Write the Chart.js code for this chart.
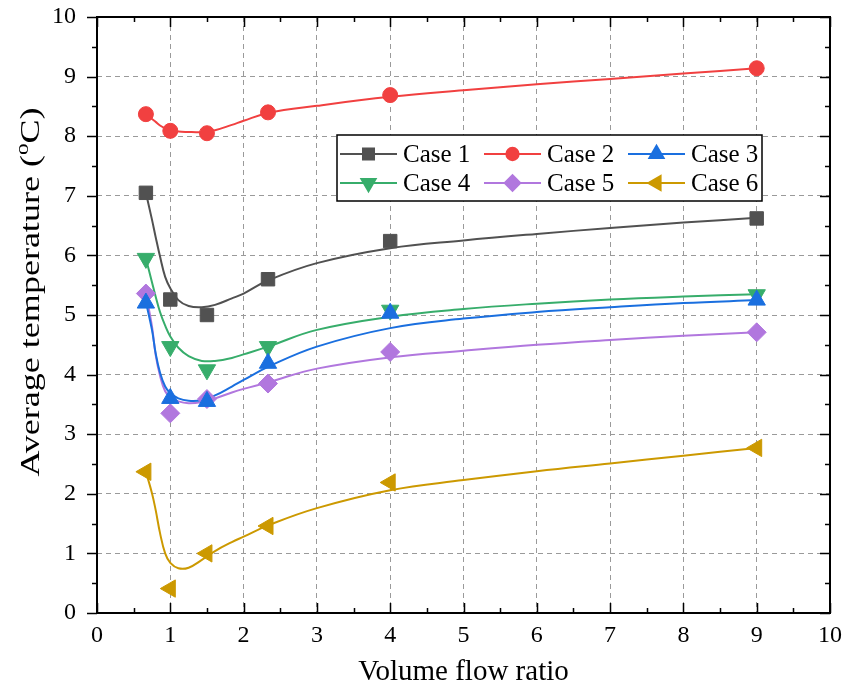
<!DOCTYPE html>
<html>
<head>
<meta charset="utf-8">
<script src="https://cdn.jsdelivr.net/npm/chart.js@4.4.0/dist/chart.umd.min.js"></script>
<style>
  html, body { margin: 0; padding: 0; background: #fff; }
</style>
</head>
<body>
<canvas id="chart" width="844" height="686"></canvas>
<script>
// measured points
const ratios = [0.667, 1, 1.5, 2.333, 4, 9];
const case1 = [7.05, 5.26, 5.00, 5.60, 6.24, 6.62];
const case2 = [8.37, 8.09, 8.05, 8.40, 8.69, 9.14];
const case3 = [5.20, 3.60, 3.55, 4.19, 5.03, 5.25];
const case4 = [5.95, 4.47, 4.08, 4.47, 5.08, 5.34];
const case5 = [5.36, 3.35, 3.59, 3.85, 4.38, 4.71];
const case6 = [2.37, 0.41, 1.00, 1.46, 2.19, 2.77];

// fitted curves
const fitX  = [0.667, 0.75, 0.80, 0.86, 0.93, 1.0, 1.11, 1.25, 1.43, 1.61, 1.84, 2.0, 2.333, 3, 4, 5, 6, 7, 8, 9];
const fit1  = [7.05, 6.60, 6.31, 5.98, 5.64, 5.45, 5.25, 5.15, 5.13, 5.17, 5.28, 5.36, 5.58, 5.87, 6.12, 6.25, 6.36, 6.46, 6.55, 6.63];
const fit2  = [8.37, 8.29, 8.24, 8.18, 8.13, 8.09, 8.08, 8.07, 8.07, 8.10, 8.19, 8.26, 8.39, 8.51, 8.66, 8.77, 8.87, 8.96, 9.05, 9.14];
const fit3  = [5.22, 4.75, 4.36, 4.03, 3.80, 3.69, 3.60, 3.56, 3.57, 3.65, 3.80, 3.91, 4.13, 4.47, 4.78, 4.94, 5.05, 5.13, 5.20, 5.25];
const fit4  = [5.95, 5.55, 5.31, 5.05, 4.82, 4.64, 4.45, 4.31, 4.23, 4.23, 4.28, 4.34, 4.47, 4.75, 4.97, 5.10, 5.19, 5.26, 5.31, 5.35];
const fit5  = [5.36, 4.81, 4.33, 3.98, 3.72, 3.62, 3.55, 3.52, 3.54, 3.60, 3.70, 3.76, 3.87, 4.10, 4.29, 4.40, 4.50, 4.58, 4.65, 4.71];
const fit6  = [2.37, 2.01, 1.73, 1.34, 1.00, 0.84, 0.75, 0.76, 0.89, 1.04, 1.19, 1.28, 1.47, 1.76, 2.06, 2.23, 2.38, 2.51, 2.64, 2.77];

const caseLabels = ['Case 1', 'Case 2', 'Case 3', 'Case 4', 'Case 5', 'Case 6'];
const axisTicks = [0, 1, 2, 3, 4, 5, 6, 7, 8, 9, 10];

const series = [case1, case2, case3, case4, case5, case6];
const fits = [fit1, fit2, fit3, fit4, fit5, fit6];

const looks = [
  { color: '#515151', pointStyle: 'rect',     radius: 9.5, rotation: 0 },
  { color: '#F14040', pointStyle: 'circle',   radius: 7.5, rotation: 0 },
  { color: '#1A6FDF', pointStyle: 'triangle', radius: 10,  rotation: 0 },
  { color: '#37AD6B', pointStyle: 'triangle', radius: 10,  rotation: 180 },
  { color: '#B177DE', pointStyle: 'rectRot',  radius: 9.5, rotation: 0 },
  { color: '#CC9900', pointStyle: 'triangle', radius: 10,  rotation: 270 }
];

const FONT = '"Liberation Serif", "Times New Roman", serif';

const datasets = [];
fits.forEach((f, i) => {
  datasets.push({
    label: caseLabels[i] + ' fit',
    data: fitX.map((x, k) => ({ x: x, y: f[k] })),
    showLine: true,
    borderColor: looks[i].color,
    borderWidth: 2,
    pointRadius: 0,
    tension: 0.4,
    order: 2
  });
});
series.forEach((s, i) => {
  datasets.push({
    label: caseLabels[i],
    data: ratios.map((x, k) => ({ x: x, y: s[k] })),
    showLine: false,
    pointStyle: looks[i].pointStyle,
    pointRadius: looks[i].radius,
    pointRotation: looks[i].rotation,
    backgroundColor: looks[i].color,
    borderColor: looks[i].color,
    borderWidth: 1,
    order: 1
  });
});

function marker(ctx, look, x, y, scale) {
  const opts = {
    pointStyle: look.pointStyle,
    radius: look.radius * scale,
    rotation: look.rotation,
    borderWidth: 1
  };
  ctx.fillStyle = look.color;
  ctx.strokeStyle = look.color;
  if (Chart.helpers && Chart.helpers.drawPoint) {
    Chart.helpers.drawPoint(ctx, opts, x, y);
  } else {
    ctx.beginPath();
    ctx.arc(x, y, opts.radius, 0, Math.PI * 2);
    ctx.fill();
  }
}

// no extra room for half tick labels, the area is fixed by layout padding
function noLabelPad(scale) {
  scale.paddingTop = 0;
  scale.paddingBottom = 0;
  scale.paddingLeft = 0;
  scale.paddingRight = 0;
}

const frame = {
  id: 'frame',
  afterDatasetsDraw(chart) {
    const { ctx, chartArea: a, scales: { x, y } } = chart;
    ctx.save();
    ctx.strokeStyle = '#000';
    ctx.lineWidth = 1.5;
    ctx.beginPath();
    for (let v = 0; v <= 10; v += 0.5) {
      const len = v % 1 === 0 ? 10 : 5;
      const px = Math.round(x.getPixelForValue(v)) + 0.5;
      const py = Math.round(y.getPixelForValue(v)) + 0.5;
      ctx.moveTo(px, a.bottom); ctx.lineTo(px, a.bottom - len);
      ctx.moveTo(px, a.top);    ctx.lineTo(px, a.top + len);
      ctx.moveTo(a.left, py);   ctx.lineTo(a.left - len, py);
      ctx.moveTo(a.right, py);  ctx.lineTo(a.right - len, py);
    }
    ctx.stroke();
    ctx.lineWidth = 2;
    ctx.strokeRect(a.left, a.top, a.right - a.left, a.bottom - a.top);
    ctx.restore();
  },
  afterDraw(chart) {
    const { ctx, chartArea: a } = chart;
    ctx.save();
    // legend box
    const bx = 337, by = 135, bw = 425, bh = 66;
    ctx.fillStyle = '#fff';
    ctx.fillRect(bx, by, bw, bh);
    ctx.strokeStyle = '#000';
    ctx.lineWidth = 1.5;
    ctx.strokeRect(bx, by, bw, bh);
    ctx.font = '25px ' + FONT;
    ctx.textBaseline = 'middle';
    ctx.textAlign = 'left';
    caseLabels.forEach((lab, i) => {
      const col = i % 3, row = Math.floor(i / 3);
      const lx = bx + 3 + col * 144;
      const ly = by + 19 + row * 29;
      ctx.strokeStyle = looks[i].color;
      ctx.lineWidth = 2;
      ctx.beginPath();
      ctx.moveTo(lx, ly); ctx.lineTo(lx + 57, ly);
      ctx.stroke();
      marker(ctx, looks[i], lx + 28.5, ly, 0.82);
      ctx.fillStyle = '#000';
      ctx.fillText(lab, lx + 63, ly + 1);
    });

    // x title
    ctx.fillStyle = '#000';
    ctx.font = '29px ' + FONT;
    ctx.textAlign = 'center';
    ctx.textBaseline = 'alphabetic';
    ctx.fillText('Volume flow ratio', (a.left + a.right) / 2, 680);

    // y title with superscript o
    const big = '28px ' + FONT, small = '18px ' + FONT;
    const p1 = 'Average temperature (', p2 = 'o', p3 = 'C)';
    ctx.font = big;
    const w1 = ctx.measureText(p1).width, w3 = ctx.measureText(p3).width;
    ctx.font = small;
    const w2 = ctx.measureText(p2).width;
    const total = w1 + w2 + w3;
    const stretch = 369 / total;
    ctx.translate(39, 292);
    ctx.rotate(-Math.PI / 2);
    ctx.scale(stretch, 1);
    ctx.textAlign = 'left';
    let cx = -total / 2;
    ctx.font = big;
    ctx.fillText(p1, cx, 0); cx += w1;
    ctx.font = small;
    ctx.fillText(p2, cx, -11); cx += w2;
    ctx.font = big;
    ctx.fillText(p3, cx, 0);
    ctx.restore();
  }
};

new Chart(document.getElementById('chart'), {
  type: 'scatter',
  data: { datasets: datasets },
  options: {
    responsive: false,
    animation: false,
    devicePixelRatio: 1,
    layout: { padding: { left: 0, right: 14, top: 17, bottom: 0 } },
    plugins: {
      legend: { display: false },
      tooltip: { enabled: false }
    },
    scales: {
      x: {
        type: 'linear',
        min: 0, max: 10,
        afterFit(scale) { scale.height = 73; noLabelPad(scale); },
        afterBuildTicks(scale) { scale.ticks = axisTicks.map(v => ({ value: v })); },
        ticks: { color: '#000', font: { family: FONT, size: 24 }, padding: 8, maxRotation: 0 },
        grid: { color: '#9a9a9a', lineWidth: 1, drawTicks: false },
        border: { display: false, dash: [5, 4] }
      },
      y: {
        type: 'linear',
        min: 0, max: 10,
        afterFit(scale) { scale.width = 97; noLabelPad(scale); },
        afterBuildTicks(scale) { scale.ticks = axisTicks.map(v => ({ value: v })); },
        ticks: { color: '#000', font: { family: FONT, size: 24 }, padding: 21 },
        grid: { color: '#9a9a9a', lineWidth: 1, drawTicks: false },
        border: { display: false, dash: [5, 4] }
      }
    }
  },
  plugins: [frame]
});
</script>
</body>
</html>
